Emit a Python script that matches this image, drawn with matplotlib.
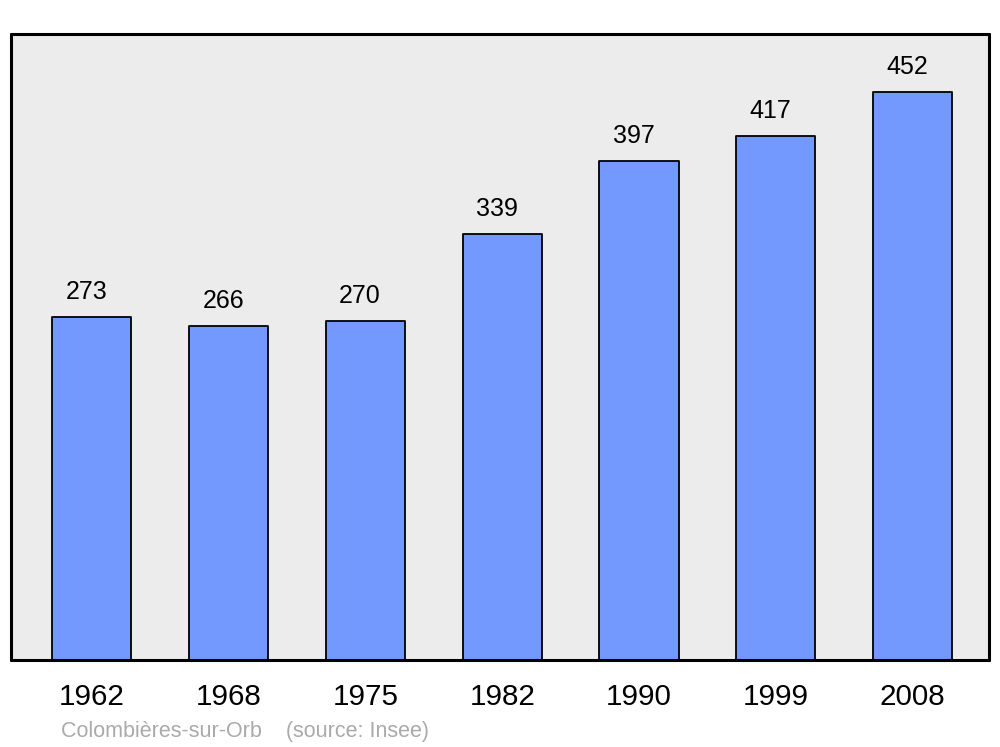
import matplotlib
matplotlib.use("Agg")
import matplotlib.pyplot as plt

years = ["1962", "1968", "1975", "1982", "1990", "1999", "2008"]
population = [273, 266, 270, 339, 397, 417, 452]
footer = "Colombières-sur-Orb    (source: Insee)"

plt.rcParams['font.family'] = ['Liberation Sans', 'DejaVu Sans']

fig = plt.figure(figsize=(10, 7.47), dpi=100)
ax = fig.add_axes([0.011, 1 - 660/747, 0.978, (660 - 34)/747])
ax.set_facecolor('#ececec')

x = list(range(len(years)))
bars = ax.bar(x, population, width=0.578, color='#7399ff', edgecolor='black',
              linewidth=1.3, zorder=2)
for b in bars:
    b.set_joinstyle('round')

for xi, v in zip(x, population):
    ax.annotate(str(v), (xi, v), xytext=(-4, 13), textcoords='offset points',
                ha='center', va='baseline', fontsize=18, color='black')

ax.set_xlim(-0.592, 6.559)
ax.set_ylim(0, 498)
ax.set_xticks(x)
ax.set_xticklabels(years, fontsize=21.3)
ax.tick_params(axis='x', length=0, pad=16.5)
ax.set_yticks([])
for s in ax.spines.values():
    s.set_linewidth(2.2)
    s.set_capstyle('round')
    s.set_joinstyle('round')
    s.set_zorder(3)

fig.text(61/1000, 1 - 737/747, footer, ha='left', va='baseline',
         fontsize=15.5, color='#aaaaaa')

fig.savefig('out.png', dpi=100, facecolor='white')
